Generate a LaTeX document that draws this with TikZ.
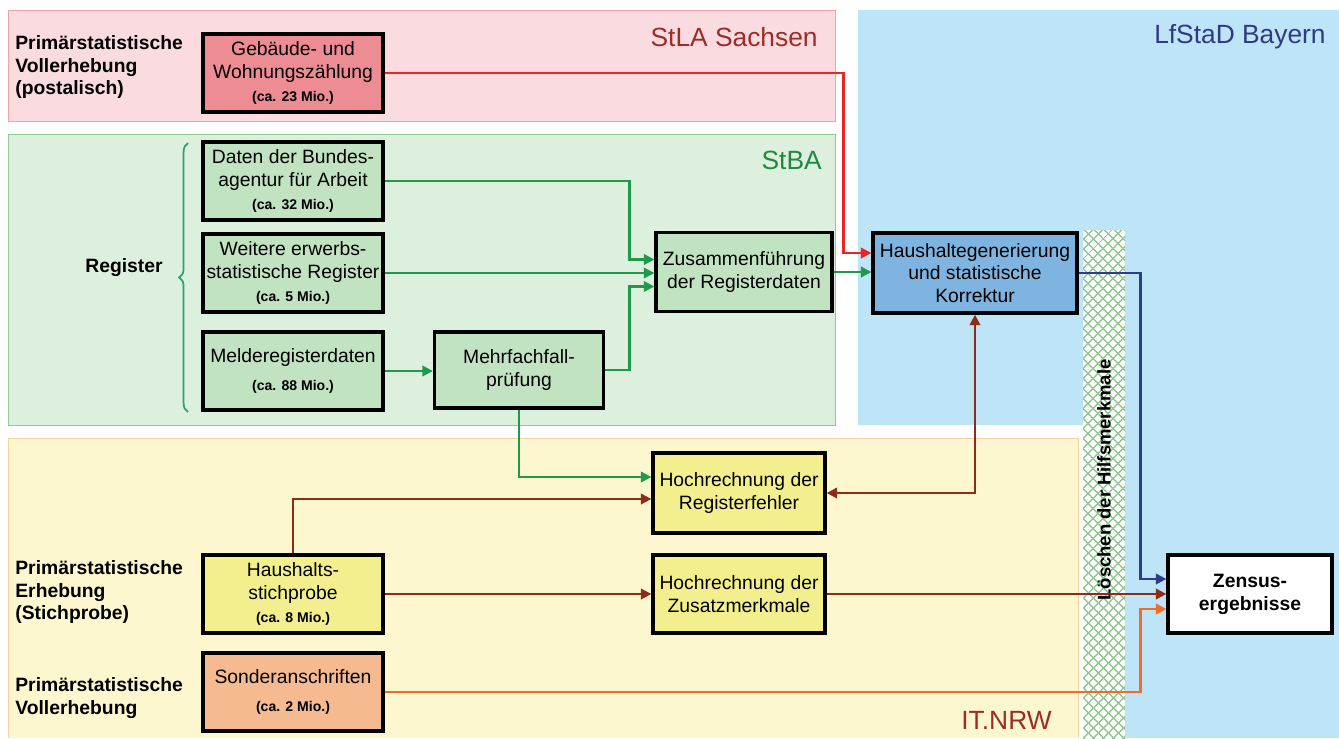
\documentclass[tikz,border=0pt]{standalone}
\usepackage{fontspec}
\setmainfont{Liberation Sans}
\usetikzlibrary{arrows.meta,decorations.pathreplacing,patterns.meta}

\definecolor{sachsenbg}{HTML}{FADCE0}
\definecolor{sachsenrand}{HTML}{F2A2AA}
\definecolor{sachsentext}{HTML}{9E2B25}
\definecolor{stbabg}{HTML}{DDF0DD}
\definecolor{stbarand}{HTML}{90CC90}
\definecolor{stbatext}{HTML}{1F8A3F}
\definecolor{klammer}{HTML}{2AA56A}
\definecolor{bayernbg}{HTML}{BEE4F8}
\definecolor{bayerntext}{HTML}{2E3A82}
\definecolor{nrwbg}{HTML}{FDF7D0}
\definecolor{nrwrand}{HTML}{F6D2A0}
\definecolor{gwzfill}{HTML}{EE8C94}
\definecolor{regfill}{HTML}{C2E3C2}
\definecolor{hhgfill}{HTML}{80B4E0}
\definecolor{gelbfill}{HTML}{F3EF8E}
\definecolor{sonderfill}{HTML}{F6BA90}
\definecolor{pfeilrot}{HTML}{EE2424}
\definecolor{pfeilgruen}{HTML}{1E9A4A}
\definecolor{pfeilbraun}{HTML}{8E2C1C}
\definecolor{pfeilblau}{HTML}{2C3C90}
\definecolor{pfeilorange}{HTML}{F26C24}
\definecolor{schraffur}{HTML}{96C896}

\tikzset{
	box/.style={draw, line width=1.9pt, align=center, inner sep=1pt, font=\fontsize{11}{13}\selectfont},
	quelle/.style={box, minimum width=3.6cm, minimum height=1.56cm},
	lbl/.style={align=left, anchor=west, inner sep=0pt, font=\fontsize{11}{12.8}\selectfont\bfseries},
	amt/.style={anchor=east, inner sep=0pt, font=\fontsize{15}{18}\selectfont},
	link/.style={line width=1.3pt, -{Triangle[length=6pt,width=6pt]}},
}
\newcommand{\mio}[1]{{\fontsize{8}{10}\selectfont\bfseries (ca. #1 Mio.)}}

\begin{document}
\begin{tikzpicture}[x=0.02cm, y=-0.02cm]
		\useasboundingbox (0,0) rectangle (1339,738);

		\fill[bayernbg] (858,10) -- (1339,10) -- (1339,738) -- (1090,738) -- (1090,425) -- (858,425) -- cycle;
		\filldraw[fill=sachsenbg, draw=sachsenrand] (8,10) rectangle (835,121);
		\filldraw[fill=stbabg, draw=stbarand] (8,134) rectangle (835,425);
		\fill[nrwbg] (8,438) rectangle (1078,738);
		\draw[nrwrand] (8,738) |- (1078,438) -- (1078,738);
		\fill[white] (1083,230) rectangle (1125,738);
		\fill[pattern={Lines[angle=45, distance=4pt, line width=0.9pt]}, pattern color=schraffur] (1083,230) rectangle (1125,738);
		\fill[pattern={Lines[angle=-45, distance=4pt, line width=0.9pt]}, pattern color=schraffur] (1083,230) rectangle (1125,738);

		\node (sachsen)[amt, text=sachsentext] at (818,37) {StLA Sachsen};
		\node (stba)[amt, text=stbatext] at (822,160) {StBA};
		\node (bayern)[amt, text=bayerntext] at (1326,37) {LfStaD Bayern};
		\node (nrw)[amt, text=sachsentext] at (1052,720) {IT.NRW};

		\node (pvh)[lbl] at (15,67) {Primärstatistische\\Vollerhebung\\(postalisch)};
		\node (reg)[lbl] at (85,268) {Register};
		\node (pes)[lbl] at (15,592) {Primärstatistische\\Erhebung\\(Stichprobe)};
		\node (pvh2)[lbl] at (15,698) {Primärstatistische\\Vollerhebung};
		\draw[klammer, line width=1pt, decorate, decoration={brace, amplitude=5pt}] (188,412) -- (188,143);

		\node (loeschen)[rotate=90, font=\fontsize{10.5}{12}\selectfont\bfseries] at (1104,480) {Löschen der Hilfsmerkmale};

		\node (gwz)[quelle, fill=gwzfill] at (293,73) {Gebäude- und\\Wohnungszählung\\\mio{23}};
		\node (ba)[quelle, fill=regfill] at (293,181) {Daten der Bundes-\\agentur für Arbeit\\\mio{32}};
		\node (wer)[quelle, fill=regfill] at (293,273) {Weitere erwerbs-\\statistische Register\\\mio{5}};
		\node (mr)[quelle, fill=regfill] at (293,371) {Melderegisterdaten\\[3pt]\mio{88}};
		\node (mff)[box, fill=regfill, minimum width=3.38cm, minimum height=1.52cm] at (519,370) {Mehrfachfall-\\prüfung};
		\node (zus)[box, fill=regfill, minimum width=3.52cm, minimum height=1.58cm] at (744,272) {Zusammenführung\\der Registerdaten};
		\node (hhg)[box, fill=hhgfill, minimum width=4.08cm, minimum height=1.6cm] at (975,273) {Haushaltegenerierung\\und statistische\\Korrektur};
		\node (hrf)[box, fill=gelbfill, minimum width=3.44cm, minimum height=1.6cm] at (739,493) {Hochrechnung der\\Registerfehler};
		\node (hzm)[box, fill=gelbfill, minimum width=3.44cm, minimum height=1.56cm] at (739,594) {Hochrechnung der\\Zusatzmerkmale};
		\node (hst)[quelle, fill=gelbfill] at (293,594) {Haushalts-\\stichprobe\\\mio{8}};
		\node (son)[quelle, fill=sonderfill] at (293,692) {Sonderanschriften\\[3pt]\mio{2}};
		\node (zen)[box, fill=white, minimum width=3.28cm, minimum height=1.56cm, font=\fontsize{11}{13}\selectfont\bfseries] at (1250,594) {Zensus-\\ergebnisse};

		\draw[link, pfeilrot] (gwz.east) -| ([xshift=-0.56cm,yshift=0.4cm]hhg.west) -- ([yshift=0.4cm]hhg.west);
		\draw[link, pfeilgruen] (ba.east) -| ([xshift=-0.5cm,yshift=0.25cm]zus.west) -- ([yshift=0.25cm]zus.west);
		\draw[link, pfeilgruen] (wer.east) -- (wer.east -| zus.west);
		\draw[link, pfeilgruen] (mr.east) -- (mr.east -| mff.west);
		\draw[link, pfeilgruen] (mff.east) -| ([xshift=-0.5cm,yshift=-0.29cm]zus.west) -- ([yshift=-0.29cm]zus.west);
		\draw[link, pfeilgruen] (zus.east) -- (zus.east -| hhg.west);
		\draw[link, pfeilgruen] (mff.south) |- ([yshift=0.32cm]hrf.west);
		\draw[link, pfeilbraun] (hst.north) |- ([yshift=-0.12cm]hrf.west);
		\draw[link, pfeilbraun] (hst.east) -- (hst.east -| hzm.west);
		\draw[link, pfeilbraun] (hzm.east) -- (hzm.east -| zen.west);
		\draw[link, pfeilbraun, {Triangle[length=6pt,width=6pt]}-{Triangle[length=6pt,width=6pt]}] (hrf.east) -| (hhg.south);
		\draw[link, pfeilblau] (hhg.east) -| ([xshift=-0.52cm,yshift=0.3cm]zen.west) -- ([yshift=0.3cm]zen.west);
		\draw[link, pfeilorange] (son.east) -| ([xshift=-0.52cm,yshift=-0.3cm]zen.west) -- ([yshift=-0.3cm]zen.west);
	\end{tikzpicture}
\end{document}
